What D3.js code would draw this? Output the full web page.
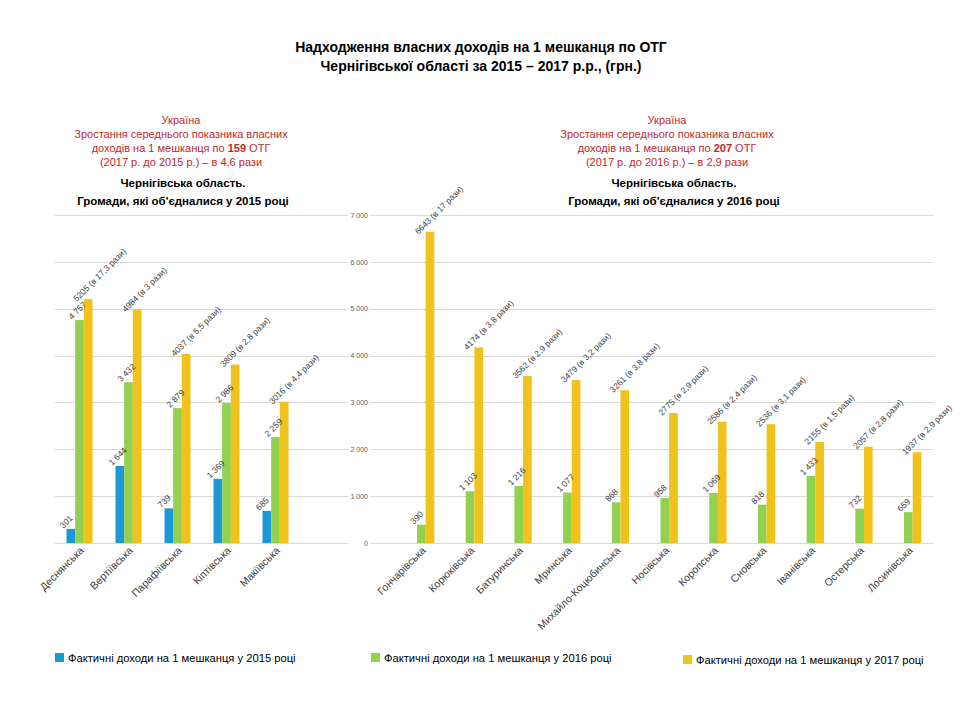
<!DOCTYPE html>
<html>
<head>
<meta charset="utf-8">
<script src="https://cdn.jsdelivr.net/npm/d3@7/dist/d3.min.js"></script>
<style>
  html, body { margin: 0; padding: 0; background: #fff; }
  svg { display: block; font-family: "Liberation Sans", Arial, sans-serif; }
</style>
</head>
<body>
<svg id="chart" width="960" height="720"></svg>
<script>
// ---------- DATA ----------
const titleLines = [
  "Надходження власних доходів на 1 мешканця по ОТГ",
  "Чернігівської області за 2015 – 2017  р.р., (грн.)"
];

const leftCategories = ["Деснянська", "Вертіївська", "Парафіївська", "Кіптівська", "Макіївська"];
const left2015 = [301, 1644, 739, 1369, 685];
const left2016 = [4757, 3432, 2879, 2986, 2259];
const left2017 = [5205, 4984, 4037, 3809, 3016];
const leftRatios = ["в 17,3 рази", "в 3 рази", "в 5,5 рази", "в 2,8 рази", "в 4,4 рази"];

const rightCategories = ["Гончарівська", "Корюківська", "Батуринська", "Мринська", "Михайло-Коцюбинська",
  "Носівська", "Коропська", "Сновська", "Іванівська", "Остерська", "Лосинівська"];
const right2016 = [390, 1103, 1216, 1077, 868, 958, 1069, 818, 1433, 732, 659];
const right2017 = [6643, 4174, 3562, 3479, 3261, 2775, 2586, 2536, 2155, 2057, 1937];
const rightRatios = ["в 17 рази", "в 3,8 рази", "в 2,9 рази", "в 3,2 рази", "в 3,8 рази",
  "в 2,9 рази", "в 2,4 рази", "в 3,1 рази", "в 1,5 рази", "в 2,8 рази", "в 2,9 рази"];

const yTicks = [0, 1000, 2000, 3000, 4000, 5000, 6000, 7000];
const years = ["2015", "2016", "2017"];

const leftNote = [
  {t: "Україна"},
  {t: "Зростання середнього показника власних"},
  {t: "доходів на 1 мешканця по ", b: "159", after: " ОТГ"},
  {t: "(2017 р. до 2015 р.) – в 4,6 рази"}
];
const rightNote = [
  {t: "Україна"},
  {t: "Зростання середнього показника власних"},
  {t: "доходів на 1 мешканця по ", b: "207", after: " ОТГ"},
  {t: "(2017 р. до 2016 р.) – в 2,9 рази"}
];
const leftSub = ["Чернігівська  область.", "Громади,  які  об'єдналися  у  2015 році"];
const rightSub = ["Чернігівська  область.", "Громади,  які  об'єдналися  у  2016 році"];

const legendItems = [
  {year: "2015", label: "Фактичні доходи на 1 мешканця у 2015 році"},
  {year: "2016", label: "Фактичні доходи на 1 мешканця у 2016 році"},
  {year: "2017", label: "Фактичні доходи на 1 мешканця у 2017 році"}
];

// ---------- STYLE ----------
const colors = {"2015": "#1b98d5", "2016": "#92d050", "2017": "#f0c21b"};
const noteColor = "#c0282d";
const textColor = "#404040";
const gridColor = "#d9d9d9";

const svg = d3.select("#chart");
const loc = d3.formatLocale({decimal: ",", thousands: " ", grouping: [3], currency: ["", ""]});
const fmt = loc.format(",d");

// title
svg.append("g").selectAll("text").data(titleLines).join("text")
  .attr("x", 481).attr("y", (d, i) => 52 + i * 19)
  .attr("text-anchor", "middle").attr("font-weight", "bold").attr("font-size", 14)
  .attr("fill", "#000").text(d => d);

// notes
function drawNote(lines, sub, cx, cxSub) {
  const g = svg.append("g");
  lines.forEach((l, i) => {
    const t = g.append("text").attr("x", cx).attr("y", 124 + i * 14)
      .attr("text-anchor", "middle").attr("font-size", 11).attr("fill", noteColor);
    t.append("tspan").text(l.t);
    if (l.b) {
      t.append("tspan").attr("font-weight", "bold").text(l.b);
      t.append("tspan").text(l.after);
    }
  });
  sub.forEach((s, i) => {
    g.append("text").attr("x", cxSub).attr("y", 187 + i * 18)
      .attr("text-anchor", "middle").attr("font-size", 11.5).attr("font-weight", "bold")
      .attr("fill", "#000").text(s);
  });
}
drawNote(leftNote, leftSub, 181, 183);
drawNote(rightNote, rightSub, 667, 674);

// y scale shared
const y = d3.scaleLinear().domain([0, 7000]).range([543, 215]);

// gridlines
function grid(x0, x1) {
  svg.append("g").selectAll("line").data(yTicks).join("line")
    .attr("x1", x0).attr("x2", x1)
    .attr("y1", d => Math.round(y(d)) + 0.5).attr("y2", d => Math.round(y(d)) + 0.5)
    .attr("stroke", gridColor).attr("stroke-width", 1);
}
grid(55, 348);
grid(370, 934);

// right y-axis labels
const yAxis = d3.axisLeft(y).tickValues(yTicks).tickSize(0).tickPadding(0).tickFormat(fmt);
const ya = svg.append("g").attr("transform", "translate(368,0)").call(yAxis);
ya.select(".domain").remove();
ya.selectAll("text").attr("font-size", 7).attr("fill", "#595959")
  .attr("font-family", "Liberation Sans, Arial, sans-serif");

function drawChart(cats, series, ratios, xStart, step) {
  const x0 = d3.scaleBand().domain(cats).range([xStart, xStart + step * cats.length]);
  const x1 = d3.scaleBand().domain(years).range([(step - 26) / 2, (step + 26) / 2]);
  const g = svg.append("g");
  const items = [];
  series.forEach(s => {
    s.values.forEach((v, i) => items.push({cat: cats[i], year: s.year, v, i}));
  });
  g.selectAll("rect").data(items).join("rect")
    .attr("x", d => x0(d.cat) + x1(d.year))
    .attr("width", x1.bandwidth())
    .attr("y", d => y(d.v))
    .attr("height", d => y(0) - y(d.v))
    .attr("fill", d => colors[d.year]);

  // value labels
  g.selectAll("text.val").data(items).join("text").attr("class", "val")
    .attr("font-size", 8.5).attr("fill", textColor)
    .attr("transform", d => {
      const cx = x0(d.cat) + x1(d.year) + x1.bandwidth() / 2;
      const long = d.year === "2017";
      const dx = long ? -11.5 : -7.5;
      const dy = long ? 3 : 0;
      return `translate(${cx + dx},${y(d.v) + dy}) rotate(-45)`;
    })
    .text(d => d.year === "2017" ? `${d.v} (${ratios[d.i]})` : fmt(d.v));

  // category labels
  g.selectAll("text.cat").data(cats).join("text").attr("class", "cat")
    .attr("font-size", 10.5).attr("fill", textColor).attr("text-anchor", "end")
    .attr("transform", d => `translate(${x0(d) + step / 2 + 5},${551}) rotate(-45)`)
    .text(d => d);
}

drawChart(leftCategories, [
  {year: "2015", values: left2015},
  {year: "2016", values: left2016},
  {year: "2017", values: left2017}
], leftRatios, 55, 49);

drawChart(rightCategories, [
  {year: "2016", values: right2016},
  {year: "2017", values: right2017}
], rightRatios, 397, 48.7);

// legend
const legendX = [55, 371, 683];
const lg = svg.append("g");
legendItems.forEach((d, i) => {
  const yy = i === 2 ? 660 : 658;
  lg.append("rect").attr("x", legendX[i]).attr("y", yy - 5).attr("width", 9).attr("height", 9)
    .attr("fill", colors[d.year]);
  lg.append("text").attr("x", legendX[i] + 13).attr("y", yy + 3.5)
    .attr("font-size", 11.2).attr("fill", "#000").text(d.label);
});
</script>
</body>
</html>
